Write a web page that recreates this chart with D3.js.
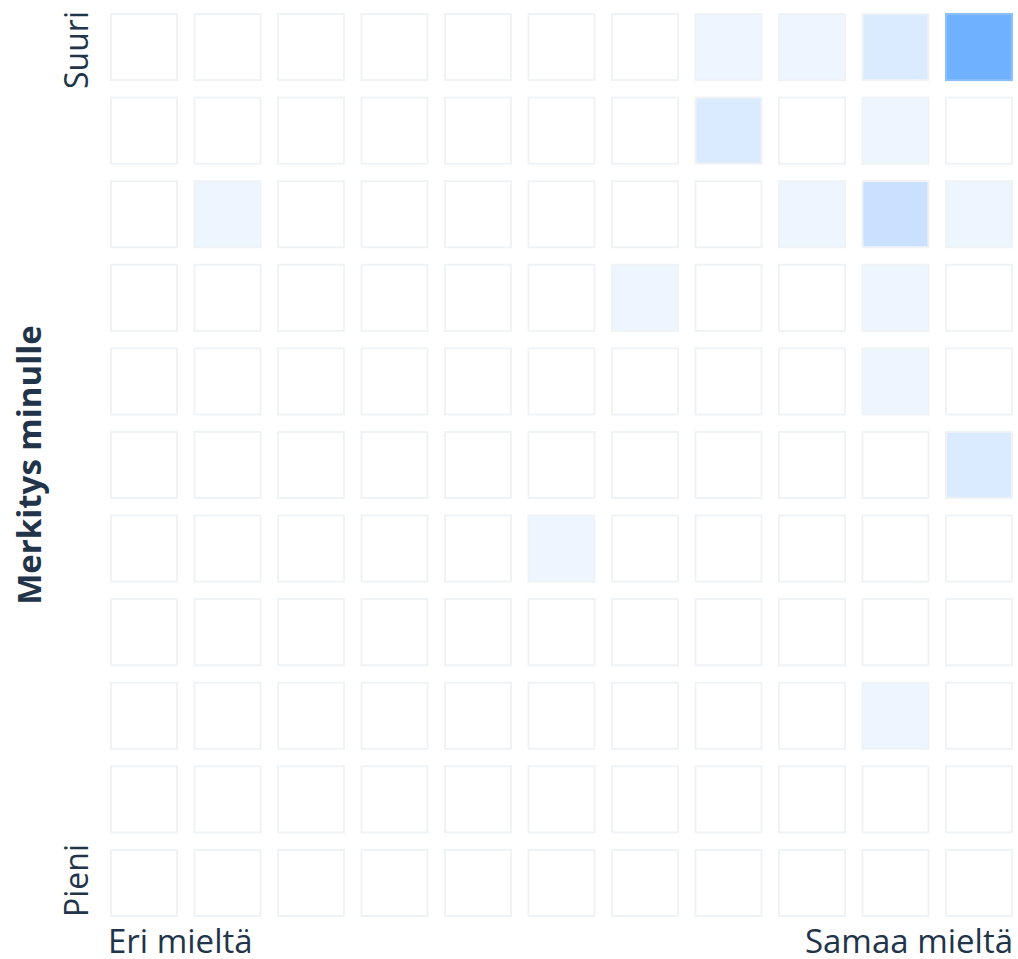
<!DOCTYPE html>
<html>
<head>
<meta charset="utf-8">
<script src="https://cdn.jsdelivr.net/npm/d3@7"></script>
<style>
  body { margin: 0; background: #fff; }
  text { font-family: "Open Sans", sans-serif; fill: #22344a; }
</style>
</head>
<body>
<div id="chart"></div>
<script>
// 11x11 grid, rows from top (Suuri) to bottom (Pieni), cols from Eri mieltä to Samaa mieltä
let rows = d3.range(11);
let cols = d3.range(11);

// answer counts per cell (row, col) — cells not listed are 0
let cellRow   = [0, 0, 0, 0, 1, 1, 2, 2, 2, 2, 3, 3, 4, 5,  6, 8];
let cellCol   = [7, 8, 9, 10, 7, 9, 1, 8, 9, 10, 6, 9, 9, 10, 5, 9];
let cellCount = [1, 1, 2, 8, 2, 1, 1, 1, 3, 1, 1, 1, 1, 2, 1, 1];

let xLabels = ["Eri mieltä", "Samaa mieltä"];
let yLabels = ["Suuri", "Pieni"];
let yTitle = "Merkitys minulle";

let width = 1018;
let height = 959;

let svg = d3.select('#chart')
  .append("svg")
  .attr("width", width)
  .attr("height", height);

let x = d3.scaleBand().domain(cols).range([110, 1013]).paddingInner(0.185);
let y = d3.scaleBand().domain(rows).range([13, 917]).paddingInner(0.185);

// white -> blue, darkest cell ~ #6fb0ff
let color = d3.scaleLinear().domain([0, 8]).range(["#ffffff", "#6fb0ff"]);

// build full grid from the arrays
let grid = [];
rows.forEach(function(r){
  cols.forEach(function(c){
    grid.push({ row: r, col: c, count: 0 });
  });
});
cellCount.forEach(function(v, i){
  grid[cellRow[i] * 11 + cellCol[i]].count = v;
});

svg.selectAll(".cell")
  .data(grid)
  .enter()
  .append("rect")
    .attr("class", "cell")
    .attr("x", function(d){ return x(d.col) + 1; })
    .attr("y", function(d){ return y(d.row) + 1; })
    .attr("width", x.bandwidth() - 2)
    .attr("height", y.bandwidth() - 2)
    .attr("fill", function(d){ return color(d.count); })
    .attr("stroke", function(d){ return d.count > 3 ? "#8cc0ff" : "#f0f3f6"; })
    .attr("stroke-width", 2);

// axis end labels
svg.append("text")
  .attr("x", x.range()[0] - 2)
  .attr("y", 953)
  .attr("font-size", 33)
  .text(xLabels[0]);

svg.append("text")
  .attr("x", x.range()[1])
  .attr("y", 953)
  .attr("text-anchor", "end")
  .attr("font-size", 33)
  .text(xLabels[1]);

svg.append("text")
  .attr("transform", "translate(88," + (y.range()[0] - 2) + ") rotate(-90)")
  .attr("text-anchor", "end")
  .attr("font-size", 32)
  .text(yLabels[0]);

svg.append("text")
  .attr("transform", "translate(88," + y.range()[1] + ") rotate(-90)")
  .attr("text-anchor", "start")
  .attr("font-size", 32)
  .text(yLabels[1]);

svg.append("text")
  .attr("transform", "translate(41," + ((y.range()[0] + y.range()[1]) / 2) + ") rotate(-90)")
  .attr("text-anchor", "middle")
  .attr("font-size", 33)
  .attr("font-weight", "bold")
  .text(yTitle);
</script>
</body>
</html>
